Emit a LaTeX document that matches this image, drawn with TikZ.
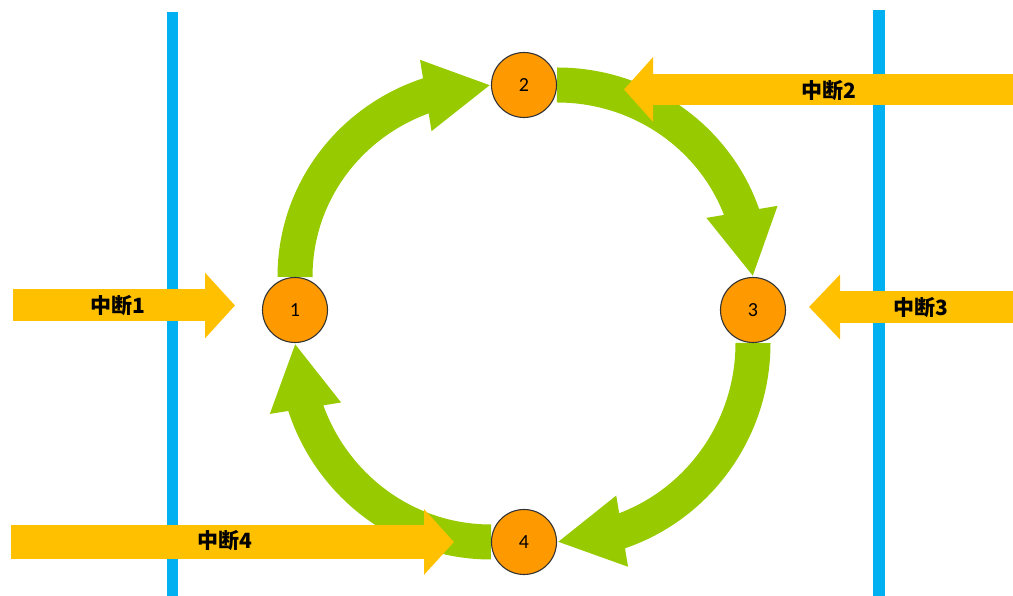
\documentclass[tikz,border=0pt]{standalone}
\usepackage{fontspec}
\setmainfont{Carlito}
\newfontfamily\cjk{Noto Sans CJK SC}
\usetikzlibrary{arrows.meta,bending}
\definecolor{flowgreen}{RGB}{152,202,0}
\definecolor{stateorange}{RGB}{255,153,0}
\definecolor{irqyellow}{RGB}{255,192,0}
\definecolor{railblue}{RGB}{0,176,240}
\pgfdeclarelayer{bg}
\pgfdeclarelayer{mid}
\pgfsetlayers{bg,mid,main}
\begin{document}
\begin{tikzpicture}[x=1pt,y=1pt,
  state/.style={circle,draw=black!80,line width=1.1pt,fill=stateorange,
    minimum size=65pt,inner sep=0pt,font=\fontsize{20}{22}\selectfont},
  flow/.style={draw=flowgreen,line width=35pt,
    -{Triangle[width=67pt,length=66pt]}},
  irq/.style={draw=irqyellow,line width=32pt,
    -{Triangle[width=64pt,length=30pt]}},
  irqtext/.style={font=\cjk\bfseries\fontsize{21}{24}\selectfont,inner sep=0pt},
  rail/.style={fill=railblue}]
\useasboundingbox (0,0) rectangle (1013,596);

% vertical rails
\begin{pgfonlayer}{bg}
  \fill[rail] (167,0) rectangle (178,584);
  \fill[rail] (873,0) rectangle (885,586);
\end{pgfonlayer}

% the four states
\node[state] (n1) at (295,286) {1};
\node[state] (n2) at (524,511) {2};
\node[state] (n3) at (753,286) {3};
\node[state] (n4) at (524,54)  {4};

% cycle between the states
\begin{pgfonlayer}{mid}
  \draw[flow] (n1) to[out=90,in=180]  (n2);
  \draw[flow] (n2) to[out=0,in=90]    (n3);
  \draw[flow] (n3) to[out=270,in=0]   (n4);
  \draw[flow] (n4) to[out=180,in=270] (n1);
\end{pgfonlayer}

% interrupt arrows
\coordinate (i1s) at (13,290.5);
\coordinate (i1e) at (235,290.5);
\coordinate (i2s) at (1013,506.5);
\coordinate (i2e) at (624,506.5);
\coordinate (i3s) at (1013,289);
\coordinate (i3e) at (809,289);
\coordinate (i4s) at (11,54);
\coordinate (i4e) at (454,54);

\draw[irq] (i1s) -- (i1e);
\draw[irq,line width=31pt,-{Triangle[width=63pt,length=29pt]}] (i2s) -- (i2e);
\draw[irq,-{Triangle[width=63pt,length=31pt]}] (i3s) -- (i3e);
\draw[irq,line width=34pt] (i4s) -- (i4e);

\node[irqtext] (t1) at (118,290) {中断1};
\node[irqtext] (t2) at (829,505) {中断2};
\node[irqtext] (t3) at (921,288) {中断3};
\node[irqtext] (t4) at (225,55)  {中断4};
\end{tikzpicture}
\end{document}
